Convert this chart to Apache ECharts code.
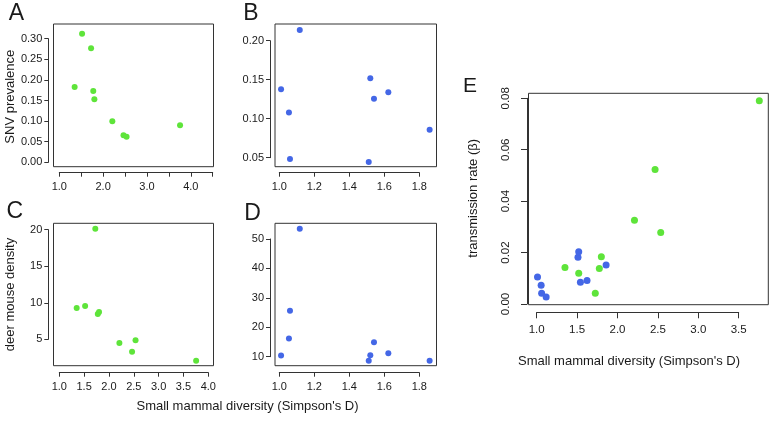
<!DOCTYPE html>
<html>
<head>
<meta charset="utf-8">
<script src="https://cdn.jsdelivr.net/npm/echarts@6/dist/echarts.min.js"></script>
<style>html,body{margin:0;padding:0;background:#fff}#c{width:770px;height:424px}</style>
</head>
<body>
<div id="c"></div>
<script>
// ---- data ----
const greenDiversity = [1.35, 1.52, 1.725, 1.775, 1.80, 2.21, 2.465, 2.535, 3.755];
const greenSNV       = [0.183, 0.312, 0.277, 0.173, 0.153, 0.0995, 0.0655, 0.062, 0.0898];
const greenDensity   = [9.29, 9.56, 20.14, 8.47, 8.74, 4.5, 3.31, 4.87, 2.08];
const greenBeta      = [0.0142, 0.012, 0.0042, 0.0138, 0.0184, 0.0326, 0.0523, 0.0278, 0.079];

const blueDiversity = [1.01, 1.055, 1.061, 1.117, 1.511, 1.52, 1.541, 1.623, 1.859];
const blueSNV       = [0.1377, 0.108, 0.0483, 0.2137, 0.0445, 0.152, 0.1256, 0.1338, 0.0859];
const blueDensity   = [10.4, 16.2, 25.6, 53.5, 8.6, 10.5, 14.9, 11.2, 8.6];
const blueBeta      = [0.0105, 0.0073, 0.0042, 0.0027, 0.0182, 0.0203, 0.0085, 0.0091, 0.0152];

const xTicksA = ['1.0', '', '2.0', '', '3.0', '', '4.0', ''];
const yTicksA = ['0.00', '0.05', '0.10', '0.15', '0.20', '0.25', '0.30'];
const xTicksB = ['1.0', '1.2', '1.4', '1.6', '1.8'];
const yTicksB = ['0.05', '0.10', '0.15', '0.20'];
const xTicksC = ['1.0', '1.5', '2.0', '2.5', '3.0', '3.5', '4.0'];
const yTicksC = ['5', '10', '15', '20'];
const xTicksD = ['1.0', '1.2', '1.4', '1.6', '1.8'];
const yTicksD = ['10', '20', '30', '40', '50'];
const xTicksE = ['1.0', '1.5', '2.0', '2.5', '3.0', '3.5'];
const yTicksE = ['0.00', '0.02', '0.04', '0.06', '0.08'];

const panelLetters = ['A', 'B', 'C', 'D', 'E'];
const xTitle = "Small mammal diversity (Simpson's D)";
const yTitleA = 'SNV prevalence';
const yTitleC = 'deer mouse density';
const yTitleE = 'transmission rate (\u03b2)';

// ---- styles ----
const FONT = 'Liberation Sans, Arial, Helvetica, sans-serif';
const GREEN = '#5EE43A';
const BLUE = '#4467E6';
const INK = '#1a1a1a';
const LINE = '#333';

const grids = [], xAxes = [], yAxes = [], series = [];

function zip(xs, ys) { return xs.map((x, i) => [x, ys[i]]); }

function addPanel(box, data, ax) {
  // box grid
  const bi = grids.length;
  grids.push({left: box[0], top: box[1], width: box[2], height: box[3],
    show: true, borderColor: LINE, borderWidth: 1, backgroundColor: 'transparent'});
  xAxes.push({gridIndex: bi, type: 'value', show: false, min: 0, max: 1});
  yAxes.push({gridIndex: bi, type: 'value', show: false, min: 0, max: 1});
  // data grid
  const di = grids.length;
  grids.push({left: data[0], top: data[1], width: data[2], height: data[3], show: false});
  const fs = ax.fs || 11;
  xAxes.push({
    gridIndex: di, type: 'value', min: ax.xmin, max: ax.xmax, interval: ax.xint,
    position: 'bottom', offset: ax.xoff,
    axisLine: {show: true, onZero: false, lineStyle: {color: LINE, width: 1}},
    axisTick: {show: true, length: ax.tick, lineStyle: {color: LINE, width: 1}},
    axisLabel: {show: true, margin: ax.xmargin, color: INK, fontSize: fs, fontFamily: FONT,
      formatter: (v, i) => ax.xlabels[i] !== undefined ? ax.xlabels[i] : ''},
    splitLine: {show: false}
  });
  yAxes.push({
    gridIndex: di, type: 'value', min: ax.ymin, max: ax.ymax, interval: ax.yint,
    position: 'left', offset: ax.yoff,
    axisLine: {show: true, onZero: false, lineStyle: {color: LINE, width: 1}},
    axisTick: {show: true, length: ax.tick, lineStyle: {color: LINE, width: 1}},
    axisLabel: {show: true, margin: ax.ymargin, color: INK, fontSize: fs, fontFamily: FONT,
      rotate: ax.yrot || 0,
      formatter: (v, i) => ax.ylabels[i] !== undefined ? ax.ylabels[i] : ''},
    splitLine: {show: false}
  });
  ax.series.forEach(s => {
    series.push({type: 'scatter', xAxisIndex: di, yAxisIndex: di, data: s.data,
      symbol: 'circle', symbolSize: ax.sym, clip: false, silent: true,
      itemStyle: {color: s.color, opacity: 1}});
  });
}

addPanel([53.5, 24, 160, 142.7], [59.3, 38.7, 153.4, 123.6], {
  xmin: 1, xmax: 4.5, xint: 0.5, ymin: 0, ymax: 0.3, yint: 0.05,
  xoff: 10.4, yoff: 11, tick: 4, xmargin: 9, ymargin: 6, sym: 6,
  xlabels: xTicksA, ylabels: yTicksA,
  series: [{data: zip(greenDiversity, greenSNV), color: GREEN}]
});
addPanel([275, 24, 161.5, 142.7], [279.3, 40.7, 140, 117], {
  xmin: 1, xmax: 1.8, xint: 0.2, ymin: 0.05, ymax: 0.2, yint: 0.05,
  xoff: 15, yoff: 9.3, tick: 4, xmargin: 9, ymargin: 6, sym: 6,
  xlabels: xTicksB, ylabels: yTicksB,
  series: [{data: zip(blueDiversity, blueSNV), color: BLUE}]
});
addPanel([53.5, 223.3, 160, 142.4], [59.3, 229.7, 149, 109.6], {
  xmin: 1, xmax: 4, xint: 0.5, ymin: 5, ymax: 20, yint: 5,
  xoff: 33.4, yoff: 11, tick: 4, xmargin: 9, ymargin: 6, sym: 6,
  xlabels: xTicksC, ylabels: yTicksC,
  series: [{data: zip(greenDiversity, greenDensity), color: GREEN}]
});
addPanel([275, 223.3, 161.5, 142.4], [279.3, 239, 140, 117.7], {
  xmin: 1, xmax: 1.8, xint: 0.2, ymin: 10, ymax: 50, yint: 10,
  xoff: 16, yoff: 9.3, tick: 4, xmargin: 9, ymargin: 6, sym: 6,
  xlabels: xTicksD, ylabels: yTicksD,
  series: [{data: zip(blueDiversity, blueDensity), color: BLUE}]
});
addPanel([528.5, 93.3, 239.8, 211.4], [536.7, 98.3, 202, 205.7], {
  xmin: 1, xmax: 3.5, xint: 0.5, ymin: 0, ymax: 0.08, yint: 0.02,
  xoff: 8.3, yoff: 9.7, tick: 6, xmargin: 12, ymargin: 15, sym: 7, fs: 11.5, yrot: 90,
  xlabels: xTicksE, ylabels: yTicksE,
  series: [{data: zip(blueDiversity, blueBeta), color: BLUE},
           {data: zip(greenDiversity, greenBeta), color: GREEN}]
});

function txt(text, x, y, size, rot) {
  return {type: 'text', x: x, y: y, rotation: rot || 0, silent: true,
    style: {text: text, fontSize: size, fontFamily: FONT, fill: INK, align: 'center', verticalAlign: 'middle'}};
}

const graphics = [
  txt(panelLetters[0], 16.3, 13.5, 23),
  txt(panelLetters[1], 250.8, 14, 23),
  txt(panelLetters[2], 14.7, 212, 23),
  txt(panelLetters[3], 252.5, 213.5, 23),
  txt(panelLetters[4], 470, 86, 21),
  txt(yTitleA, 10, 96.7, 13, Math.PI / 2),
  txt(yTitleC, 10, 294.5, 13, Math.PI / 2),
  txt(yTitleE, 473.3, 198.3, 13, Math.PI / 2),
  txt(xTitle, 247.5, 406.7, 13),
  txt(xTitle, 629, 361.7, 13)
];

const chart = echarts.init(document.getElementById('c'), null, {renderer: 'canvas'});
chart.setOption({
  animation: false,
  backgroundColor: '#fff',
  grid: grids, xAxis: xAxes, yAxis: yAxes, series: series,
  graphic: graphics
});
</script>
</body>
</html>
